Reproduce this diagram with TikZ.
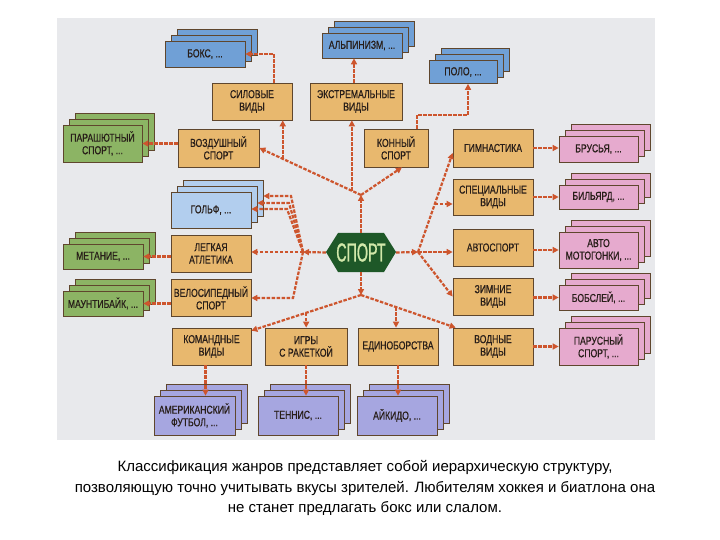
\documentclass[tikz,border=0pt]{standalone}
\usepackage{fontspec}
\setmainfont{Liberation Sans}
\newfontfamily\condf[FakeStretch=0.75,FakeBold=0.6]{Liberation Sans}
\newfontfamily\hexf[FakeStretch=0.55,FakeBold=0.8]{Liberation Sans}
\usetikzlibrary{shadows,arrows.meta,calc}
\definecolor{bgc}{RGB}{232,233,236}
\definecolor{orangeb}{RGB}{232,184,110}
\definecolor{boxline}{RGB}{95,70,45}
\definecolor{blueb}{RGB}{112,160,214}
\definecolor{lblueb}{RGB}{178,206,238}
\definecolor{greenb}{RGB}{140,180,100}
\definecolor{pinkb}{RGB}{230,170,206}
\definecolor{lavb}{RGB}{166,166,224}
\definecolor{arrowc}{RGB}{205,85,45}
\definecolor{hexc}{RGB}{30,88,40}
\definecolor{hextext}{RGB}{210,232,170}
\definecolor{boxtext}{RGB}{40,30,25}
\begin{document}
\begin{tikzpicture}[x=1bp,y=-1bp,
  box/.style={draw=boxline, line width=0.7bp, align=center, inner sep=1bp, text=boxtext,
    font=\condf\fontsize{11.5bp}{12.5bp}\selectfont},
  cat/.style={box, fill=orangeb, minimum height=37bp, minimum width=80bp},
  leaf/.style={box, double copy shadow={shadow xshift=6bp, shadow yshift=6bp}, minimum width=80bp},
  conn/.style={draw=arrowc, line width=2.2bp, dash pattern=on 3.5bp off 1.5bp,
    -{Triangle[length=6bp,width=6bp]}},
]
\useasboundingbox (0,0) rectangle (720,540);
\fill[white] (0,0) rectangle (720,540);
\fill[bgc] (57,18) rectangle (655,440);

% category boxes
\node[cat] (silovye) at (252,101.5) {СИЛОВЫЕ\\ВИДЫ};
\node[cat, minimum width=92bp] (extreme) at (356,101.5) {ЭКСТРЕМАЛЬНЫЕ\\ВИДЫ};
\node[cat, minimum width=81bp, minimum height=38bp] (vozd) at (218.5,148) {ВОЗДУШНЫЙ\\СПОРТ};
\node[cat, minimum width=64bp, minimum height=38bp] (konny) at (396,148) {КОННЫЙ\\СПОРТ};
\node[cat, minimum height=38bp] (gimn) at (493,148) {ГИМНАСТИКА};
\node[cat, minimum height=36bp] (spec) at (493,197) {СПЕЦИАЛЬНЫЕ\\ВИДЫ};
\node[cat] (avto) at (493,247.5) {АВТОСПОРТ};
\node[cat] (zimn) at (493,296.5) {ЗИМНИЕ\\ВИДЫ};
\node[cat] (vodn) at (493,346.5) {ВОДНЫЕ\\ВИДЫ};
\node[cat] (edin) at (398,346.5) {ЕДИНОБОРСТВА};
\node[cat, minimum width=82bp] (igry) at (306,346.5) {ИГРЫ\\С РАКЕТКОЙ};
\node[cat, minimum width=79bp] (koman) at (211.5,346.5) {КОМАНДНЫЕ\\ВИДЫ};
\node[cat] (legk) at (211,253.5) {ЛЕГКАЯ\\АТЛЕТИКА};
\node[cat] (velo) at (211,298) {ВЕЛОСИПЕДНЫЙ\\СПОРТ};

% leaf boxes
\node[leaf, fill=blueb, minimum height=26bp] (boks) at (205,54) {БОКС, ...};
\node[leaf, fill=blueb, minimum height=25bp] (alp) at (362,45.5) {АЛЬПИНИЗМ, ...};
\node[leaf, fill=blueb, minimum width=68bp, minimum height=23bp] (polo) at (463,72) {ПОЛО, ...};
\node[leaf, fill=greenb, minimum width=79bp, minimum height=37bp] (parash) at (102.5,143.5) {ПАРАШЮТНЫЙ\\СПОРТ, ...};
\node[leaf, fill=lblueb, minimum height=36bp] (golf) at (211,210) {ГОЛЬФ, ...};
\node[leaf, fill=greenb, minimum height=25bp] (metan) at (103,256.5) {МЕТАНИЕ, ...};
\node[leaf, fill=greenb, minimum height=25bp] (maunt) at (103,303.5) {МАУНТИБАЙК, ...};
\node[leaf, fill=pinkb, minimum width=79bp, minimum height=26bp] (brus) at (598.5,149) {БРУСЬЯ, ...};
\node[leaf, fill=pinkb, minimum width=79bp, minimum height=24bp] (bily) at (598.5,197) {БИЛЬЯРД, ...};
\node[leaf, fill=pinkb, minimum width=79bp, minimum height=36bp] (avtomoto) at (598.5,250) {АВТО\\МОТОГОНКИ, ...};
\node[leaf, fill=pinkb, minimum width=79bp, minimum height=25bp] (bobs) at (598.5,297.5) {БОБСЛЕЙ, ...};
\node[leaf, fill=pinkb, minimum width=79bp, minimum height=37bp] (parus) at (598.5,346.5) {ПАРУСНЫЙ\\СПОРТ, ...};
\node[leaf, fill=lavb, minimum width=81bp, minimum height=39bp] (amer) at (194.5,415.5) {АМЕРИКАНСКИЙ\\ФУТБОЛ, ...};
\node[leaf, fill=lavb, minimum height=39bp] (tenn) at (298,415.5) {ТЕННИС, ...};
\node[leaf, fill=lavb, minimum height=39bp] (aik) at (397,415.5) {АЙКИДО, ...};

% central hexagon
\fill[hexc] (326,252) -- (338,233) -- (384,233) -- (396,252) -- (384,272) -- (338,272) -- cycle;
\node[minimum width=70bp, minimum height=39bp, inner sep=0bp, text=hextext,
  font=\hexf\fontsize{26bp}{26bp}\selectfont] (sport) at (361,252.5) {СПОРТ};

% junctions
\coordinate (J1) at (361,195);
\coordinate (J2) at (418,252);
\coordinate (J3) at (361,295);
\coordinate (J4) at (303,252);

% upper fan
\draw[conn] (sport.north) -- (J1);
\draw[conn] (J1) -- (vozd.east);
\draw[conn] (J1) -- ([xshift=6bp]konny.south);
\coordinate (b1) at ($(J1)!0.77!(vozd.east)$);
\coordinate (b2) at ($(J1)!0.09!(vozd.east)$);
\draw[conn] (b1) -- (b1 |- silovye.south);
\draw[conn] (b2) -- (b2 |- extreme.south);

% right fan
\draw[conn] (sport.east) -- (J2);
\draw[conn] (J2) -- (J2 -| avto.west);
\draw[conn] (J2) -- (zimn.west);
\draw[conn] (J2) -- ([yshift=-5bp]gimn.west);
\coordinate (b3) at ($(J2)!0.485!([yshift=-5bp]gimn.west)$);
\draw[conn] (b3) -- (b3 -| spec.west);

% lower fan
\draw[conn] (sport.south) -- (J3);
\draw[conn] (J3) -- ([yshift=-3bp]koman.north east);
\draw[conn] (J3) -- ([xshift=3bp]vodn.north west);
\coordinate (b4) at ($(J3)!0.5!([yshift=-3bp]koman.north east)$);
\coordinate (b5) at ($(J3)!0.37!([xshift=3bp]vodn.north west)$);
\draw[conn] (b4) -- (b4 |- igry.north);
\draw[conn] (b5) -- (b5 |- edin.north);

% left fan
\draw[conn] (sport.west) -- (J4);
\draw[conn] (J4) -- (J4 -| legk.east);
\draw[conn] (J4) -- ++(-12,-56) -- ([xshift=12bp,yshift=14bp]golf.east);
\draw[conn] (J4) -- ++(-14,-49) -- ([xshift=6bp,yshift=7bp]golf.east);
\draw[conn] (J4) -- ++(-16,-43) -- ([yshift=1bp]golf.east);
\draw[conn] (J4) -- ++(-10,46) -- (velo.east);

% category to leaf
\draw[conn] ([xshift=22bp]silovye.north) |- (boks.east);
\draw[conn] ([xshift=-2bp]extreme.north) -- ([xshift=-2bp]extreme.north |- alp.south);
\draw[conn] ([xshift=21bp]konny.north) -- ++(0,-14) -| ([xshift=5bp]polo.south);
\draw[conn] (vozd.west |- parash.east) -- (parash.east);
\draw[conn] (legk.west |- metan.east) -- (metan.east);
\draw[conn] (velo.west |- maunt.east) -- (maunt.east);
\draw[conn] (gimn.east) -- (gimn.east -| brus.west);
\draw[conn] (spec.east) -- (spec.east -| bily.west);
\draw[conn] (avto.east |- avtomoto.west) -- (avtomoto.west);
\draw[conn] (zimn.east |- bobs.west) -- (bobs.west);
\draw[conn] (vodn.east) -- (vodn.east -| parus.west);
\draw[conn] ([xshift=-6bp]koman.south) -- ([xshift=-6bp]koman.south |- amer.north);
\draw[conn] (igry.south) -- (igry.south |- tenn.north);
\draw[conn] (edin.south) -- (edin.south |- aik.north);

% caption
\node[align=center, font=\fontsize{15bp}{20.5bp}\selectfont, inner sep=0bp] (caption) at (365,488)
  {Классификация жанров представляет собой иерархическую структуру,\\
   позволяющую точно учитывать вкусы зрителей. Любителям хоккея и биатлона она\\
   не станет предлагать бокс или слалом.};
\end{tikzpicture}
\end{document}
